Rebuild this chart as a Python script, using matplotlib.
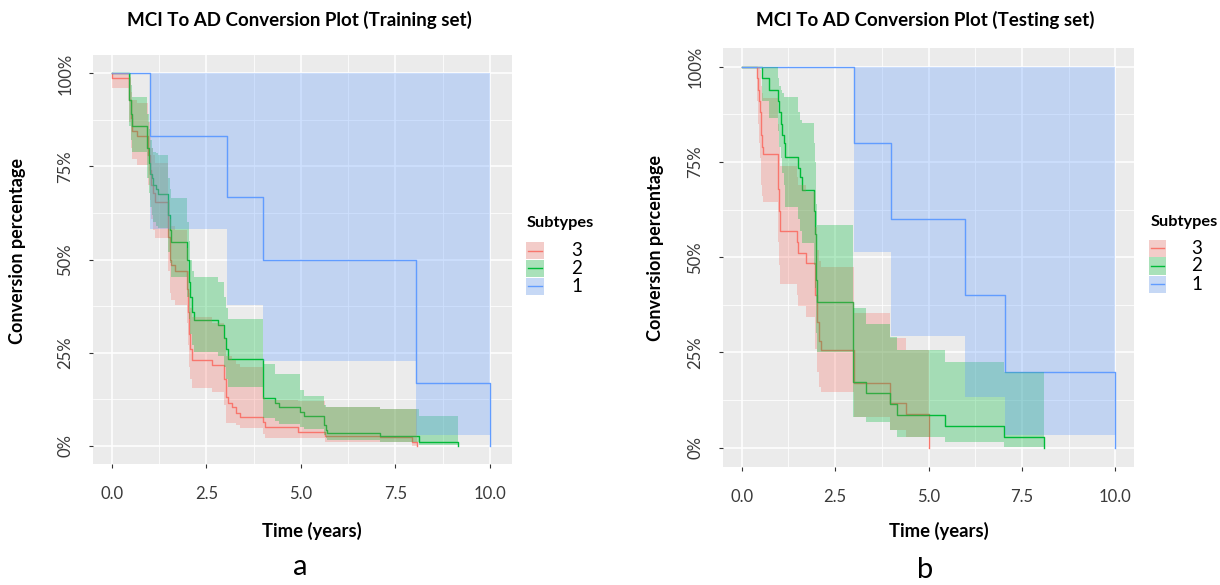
import matplotlib
matplotlib.use("Agg")
import matplotlib.pyplot as plt
from matplotlib.patches import Rectangle
from matplotlib.lines import Line2D
import numpy as np

plt.rcParams['font.family'] = ['Lato', 'DejaVu Sans']

# ---------------- data: training set ----------------
tr_t3 = [0, 0.02, 0.47, 0.50, 0.53, 0.66, 0.97, 1.01, 1.04, 1.08, 1.14, 1.50, 1.53, 1.56, 1.67, 1.98, 2.01, 2.04, 2.08, 2.11,
         2.64, 2.97, 3.02, 3.08, 3.17, 3.29, 3.39, 3.99, 4.05, 4.93, 5.64, 7.09, 7.93, 8.06]
tr_s3 = [1.0, 0.987, 0.93, 0.88, 0.846, 0.832, 0.78, 0.74, 0.70, 0.678, 0.655, 0.56, 0.50, 0.485, 0.47, 0.42, 0.36, 0.30, 0.26, 0.230,
         0.216, 0.18, 0.131, 0.113, 0.103, 0.088, 0.077, 0.064, 0.051, 0.037, 0.026, 0.024, 0.010, 0.0]
tr_u3 = [1.0, 1.0, 0.99, 0.95, 0.93, 0.92, 0.87, 0.83, 0.80, 0.78, 0.76, 0.66, 0.61, 0.59, 0.58, 0.53, 0.47, 0.41, 0.37, 0.346,
         0.33, 0.29, 0.24, 0.24, 0.23, 0.22, 0.21, 0.13, 0.122, 0.12, 0.104, 0.098, 0.098, 0.0]
tr_l3 = [1.0, 0.96, 0.87, 0.80, 0.77, 0.755, 0.70, 0.66, 0.61, 0.58, 0.557, 0.47, 0.41, 0.39, 0.378, 0.33, 0.27, 0.21, 0.18, 0.154,
         0.145, 0.11, 0.06, 0.06, 0.06, 0.055, 0.046, 0.03, 0.019, 0.019, 0.01, 0.01, 0.0, 0.0]

tr_t2 = [0, 0.47, 0.50, 0.54, 0.94, 0.98, 1.02, 1.06, 1.10, 1.16, 1.23, 1.50, 1.53, 1.56, 2.00, 2.04, 2.08, 2.12, 2.17,
         2.82, 2.98, 3.02, 3.08, 3.99, 4.32, 4.42, 4.98, 5.07, 5.61, 5.66, 5.70, 7.09, 8.11, 9.16]
tr_s2 = [1.0, 0.93, 0.89, 0.86, 0.80, 0.76, 0.73, 0.718, 0.70, 0.69, 0.675, 0.62, 0.58, 0.546, 0.50, 0.44, 0.40, 0.36, 0.337,
         0.324, 0.29, 0.26, 0.233, 0.127, 0.115, 0.104, 0.09, 0.079, 0.055, 0.043, 0.034, 0.026, 0.010, 0.0]
tr_u2 = [1.0, 1.0, 0.97, 0.936, 0.89, 0.85, 0.82, 0.80, 0.79, 0.785, 0.781, 0.72, 0.69, 0.665, 0.60, 0.55, 0.50, 0.47, 0.454,
         0.44, 0.40, 0.37, 0.339, 0.219, 0.192, 0.192, 0.15, 0.133, 0.11, 0.104, 0.104, 0.098, 0.079, 0.0]
tr_l2 = [1.0, 0.86, 0.82, 0.79, 0.72, 0.68, 0.64, 0.62, 0.60, 0.59, 0.585, 0.52, 0.49, 0.454, 0.40, 0.34, 0.30, 0.27, 0.252,
         0.24, 0.21, 0.18, 0.158, 0.073, 0.066, 0.058, 0.05, 0.045, 0.028, 0.02, 0.015, 0.01, 0.0015, 0.0]

tr_t1 = [0, 1.01, 3.04, 4.01, 8.04, 10.0]
tr_s1 = [1.0, 0.833, 0.667, 0.5, 0.167, 0.0]
tr_u1 = [1.0, 1.0, 1.0, 1.0, 1.0, 0.0]
tr_l1 = [1.0, 0.583, 0.378, 0.226, 0.029, 0.0]

# ---------------- data: testing set ----------------
te_t3 = [0, 0.40, 0.44, 0.47, 0.49, 0.51, 0.53, 0.55, 0.57, 0.96, 1.00, 1.03, 1.48, 1.52, 1.72, 1.97, 2.02, 2.07, 2.13,
         3.00, 3.97, 4.39, 5.00]
te_s3 = [1.0, 0.97, 0.94, 0.91, 0.88, 0.85, 0.82, 0.79, 0.77, 0.68, 0.62, 0.57, 0.541, 0.512, 0.484, 0.40, 0.33, 0.28, 0.256,
         0.169, 0.117, 0.088, 0.0]
te_u3 = [1.0, 1.0, 1.0, 1.0, 0.99, 0.97, 0.95, 0.93, 0.917, 0.85, 0.79, 0.74, 0.71, 0.69, 0.67, 0.58, 0.52, 0.49, 0.475,
         0.353, 0.287, 0.256, 0.0]
te_l3 = [1.0, 0.91, 0.85, 0.80, 0.76, 0.72, 0.69, 0.66, 0.646, 0.54, 0.48, 0.43, 0.40, 0.372, 0.344, 0.26, 0.20, 0.16, 0.147,
         0.081, 0.046, 0.029, 0.0]

te_t2 = [0, 0.54, 0.72, 0.97, 1.00, 1.04, 1.08, 1.12, 1.16, 1.52, 1.57, 1.61, 1.93, 1.96, 1.98, 2.00, 2.02,
         2.99, 3.32, 3.97, 4.17, 5.43, 7.02, 8.10]
te_s2 = [1.0, 0.970, 0.939, 0.91, 0.88, 0.85, 0.821, 0.799, 0.764, 0.735, 0.711, 0.676, 0.62, 0.56, 0.50, 0.44, 0.383,
         0.173, 0.144, 0.115, 0.086, 0.057, 0.029, 0.0]
te_u2 = [1.0, 1.0, 1.0, 0.97, 0.95, 0.94, 0.93, 0.92, 0.92, 0.88, 0.86, 0.851, 0.80, 0.75, 0.70, 0.64, 0.585,
         0.366, 0.326, 0.29, 0.256, 0.226, 0.20, 0.0]
te_l2 = [1.0, 0.91, 0.864, 0.83, 0.79, 0.76, 0.72, 0.69, 0.633, 0.60, 0.57, 0.536, 0.48, 0.42, 0.36, 0.30, 0.252,
         0.081, 0.068, 0.046, 0.029, 0.016, 0.003, 0.0]

te_t1 = [0, 3.00, 3.99, 5.98, 7.06, 9.98]
te_s1 = [1.0, 0.8, 0.6, 0.4, 0.2, 0.0]
te_u1 = [1.0, 1.0, 1.0, 1.0, 1.0, 0.0]
te_l1 = [1.0, 0.514, 0.293, 0.134, 0.033, 0.0]

subtypes = ["3", "2", "1"]
colors = {"3": "#F8766D", "2": "#00BA38", "1": "#619CFF"}
titles = ["MCI To AD Conversion Plot (Training set)", "MCI To AD Conversion Plot (Testing set)"]
x_ticks = [0.0, 2.5, 5.0, 7.5, 10.0]
y_ticks = [0, 0.25, 0.5, 0.75, 1.0]
y_ticklabels = ["0%", "25%", "50%", "75%", "100%"]

panels = [
    {"3": (tr_t3, tr_s3, tr_u3, tr_l3), "2": (tr_t2, tr_s2, tr_u2, tr_l2), "1": (tr_t1, tr_s1, tr_u1, tr_l1)},
    {"3": (te_t3, te_s3, te_u3, te_l3), "2": (te_t2, te_s2, te_u2, te_l2), "1": (te_t1, te_s1, te_u1, te_l1)},
]

W, H = 1220, 585
fig = plt.figure(figsize=(W / 100, H / 100), dpi=100)


def fx(x):
    return x / W


def fy(y):
    return 1 - y / H


# axes rectangles in pixels: left, right, top, bottom
rects = [(92.6, 512.0, 54.9, 464.1), (723.0, 1134.0, 47.6, 466.8)]
xlims = [(-0.504, 10.58), (-0.5, 10.5)]
letters = ["a", "b"]
letter_pos = [(300, 567), (925, 570)]
ylab_x = [18, 655]
leg_cfg = [
    dict(title=(527, 223), key_x=(526, 544), rows=[(242, 259), (259.5, 277), (277.5, 294.5)], lab_x=577),
    dict(title=(1151, 222), key_x=(1149, 1166), rows=[(239.5, 256.5), (257, 275), (275.5, 293)], lab_x=1197),
]

for i, data in enumerate(panels):
    l, r, t, b = rects[i]
    ax = fig.add_axes([fx(l), fy(b), (r - l) / W, (b - t) / H])
    ax.set_facecolor("#EBEBEB")
    ax.set_xlim(*xlims[i])
    ax.set_ylim(-0.05, 1.05)
    ax.set_xticks(x_ticks)
    ax.set_xticklabels(["%.1f" % v for v in x_ticks])
    ax.set_yticks(y_ticks)
    ax.set_yticklabels(y_ticklabels, rotation=90, va="center")
    ax.set_xticks([1.25, 3.75, 6.25, 8.75], minor=True)
    ax.set_yticks([0.125, 0.375, 0.625, 0.875], minor=True)
    ax.grid(which="major", color="white", linewidth=1.1)
    ax.grid(which="minor", color="white", linewidth=0.55)
    ax.set_axisbelow(True)
    for s in ax.spines.values():
        s.set_visible(False)
    ax.tick_params(which="major", length=3, width=0.8, color="#333333", labelcolor="#3A3A3A",
                   labelsize=12)
    ax.tick_params(axis="x", which="major", pad=13)
    ax.tick_params(axis="y", which="major", pad=11)
    ax.tick_params(which="minor", length=0)

    # lines first, ribbons on top (as in survminer)
    for k in subtypes:
        tt, ss, uu, ll = data[k]
        ax.step(tt, ss, where="post", color=colors[k], linewidth=1.0, zorder=2)
    for k in subtypes:
        tt, ss, uu, ll = data[k]
        ax.fill_between(tt, ll, uu, step="post", color=colors[k], alpha=0.3, linewidth=0, zorder=3)

    cx = (l + r) / 2
    fig.text(fx(cx - 3), fy(20), titles[i], ha="center", va="center", fontsize=13.5, fontweight="bold")
    fig.text(fx(cx + 10), fy(531), "Time (years)", ha="center", va="center", fontsize=13.3, fontweight="bold")
    fig.text(fx(ylab_x[i]), fy((t + b) / 2 - 9), "Conversion percentage", ha="center", va="center",
             rotation=90, fontsize=13, fontweight="bold")
    fig.text(fx(letter_pos[i][0]), fy(letter_pos[i][1]), letters[i], ha="center", va="center", fontsize=21)

    # legend
    cfg = leg_cfg[i]
    fig.text(fx(cfg["title"][0]), fy(cfg["title"][1]), "Subtypes", ha="left", va="center",
             fontsize=11.8, fontweight="bold")
    for k, (y0, y1) in zip(subtypes, cfg["rows"]):
        x0, x1 = cfg["key_x"]
        fig.add_artist(Rectangle((fx(x0), fy(y1)), (x1 - x0) / W, (y1 - y0) / H, transform=fig.transFigure,
                                 facecolor="#F2F2F2", edgecolor="none"))
        fig.add_artist(Rectangle((fx(x0), fy(y1)), (x1 - x0) / W, (y1 - y0) / H, transform=fig.transFigure,
                                 facecolor=colors[k], alpha=0.3, edgecolor="none"))
        ym = (y0 + y1) / 2
        fig.add_artist(Line2D([fx(x0 + 2), fx(x1 - 2)], [fy(ym), fy(ym)], transform=fig.transFigure,
                              color=colors[k], linewidth=1.0))
        fig.text(fx(cfg["lab_x"]), fy(ym), k, ha="center", va="center", fontsize=13.5)

fig.savefig("out.png", dpi=100)
